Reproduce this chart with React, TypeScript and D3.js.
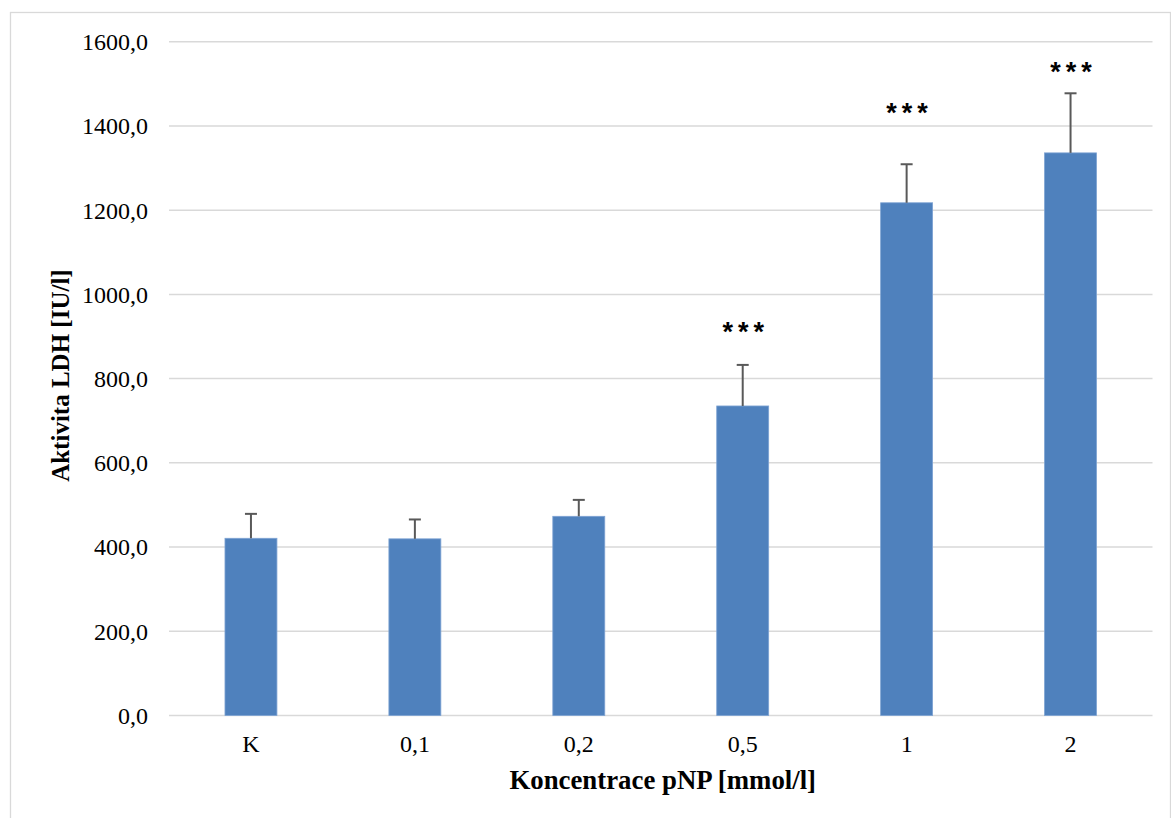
import React from "react";
import * as d3 from "d3";

const categories = ["K", "0,1", "0,2", "0,5", "1", "2"];
const means = [420.8, 419.5, 473, 735, 1217.5, 1336];
const errors = [58, 46, 39, 97.5, 91.5, 141.5];
const significance = ["", "", "", "***", "***", "***"];
const significanceAt = [0, 0, 0, 925, 1446, 1543];
const yTicks = [0, 200, 400, 600, 800, 1000, 1200, 1400, 1600];

const W = 1171;
const H = 818;
const M = { left: 169, right: 1152.5, top: 41.7, bottom: 715.5 };

export default function App() {
  const x = d3
    .scaleBand<string>()
    .domain(categories)
    .range([M.left, M.right])
    .paddingInner(0)
    .paddingOuter(0);
  const y = d3.scaleLinear().domain([0, 1600]).range([M.bottom, M.top]);
  const barW = x.bandwidth() * 0.317;
  const fmt = (v: number) => d3.format(".1f")(v).replace(".", ",");
  const serif = "'Liberation Serif', 'Times New Roman', serif";

  return (
    <svg
      width={W}
      height={H}
      style={{ position: "absolute", left: 0, top: 0, background: "#fff" }}
    >
      <rect x={10.5} y={12.5} width={1160} height={820} fill="#fff" stroke="#d9d9d9" strokeWidth={1.3} />
      {yTicks.map((t) => (
        <g key={t}>
          <line x1={M.left} x2={M.right} y1={y(t)} y2={y(t)} stroke="#d9d9d9" strokeWidth={1.5} />
          <text
            x={148}
            y={y(t)}
            dy="0.35em"
            textAnchor="end"
            fontFamily={serif}
            fontSize={24}
            fill="#000"
          >
            {fmt(t)}
          </text>
        </g>
      ))}
      {categories.map((c, i) => {
        const cx = (x(c) as number) + x.bandwidth() / 2;
        const top = y(means[i]);
        const et = y(means[i] + errors[i]);
        return (
          <g key={c}>
            <rect
              x={cx - barW / 2}
              y={top}
              width={barW}
              height={y(0) - top}
              fill="#4f81bd"
              stroke="#7ea3d3"
              strokeWidth={0.8}
            />
            <line x1={cx} x2={cx} y1={top} y2={et} stroke="#595959" strokeWidth={2} />
            <line x1={cx - 6} x2={cx + 6} y1={et} y2={et} stroke="#595959" strokeWidth={2} />
            {significance[i] && (
              <text
                x={cx + 3}
                y={y(significanceAt[i]) + 15}
                textAnchor="middle"
                fontFamily="'Liberation Sans', Arial, sans-serif"
                fontWeight="bold"
                fontSize={27}
                letterSpacing={5}
                fill="#000"
              >
                {significance[i]}
              </text>
            )}
            <text
              x={cx}
              y={752}
              textAnchor="middle"
              fontFamily={serif}
              fontSize={24}
              fill="#000"
            >
              {c}
            </text>
          </g>
        );
      })}
      <text
        x={(M.left + M.right) / 2 + 2}
        y={789}
        textAnchor="middle"
        fontFamily={serif}
        fontWeight="bold"
        fontSize={26.8}
        fill="#000"
      >
        Koncentrace pNP [mmol/l]
      </text>
      <text
        transform={`translate(69, ${(M.top + M.bottom) / 2 - 3}) rotate(-90)`}
        textAnchor="middle"
        fontFamily={serif}
        fontWeight="bold"
        fontSize={25}
        fill="#000"
      >
        Aktivita LDH [IU/l]
      </text>
    </svg>
  );
}
